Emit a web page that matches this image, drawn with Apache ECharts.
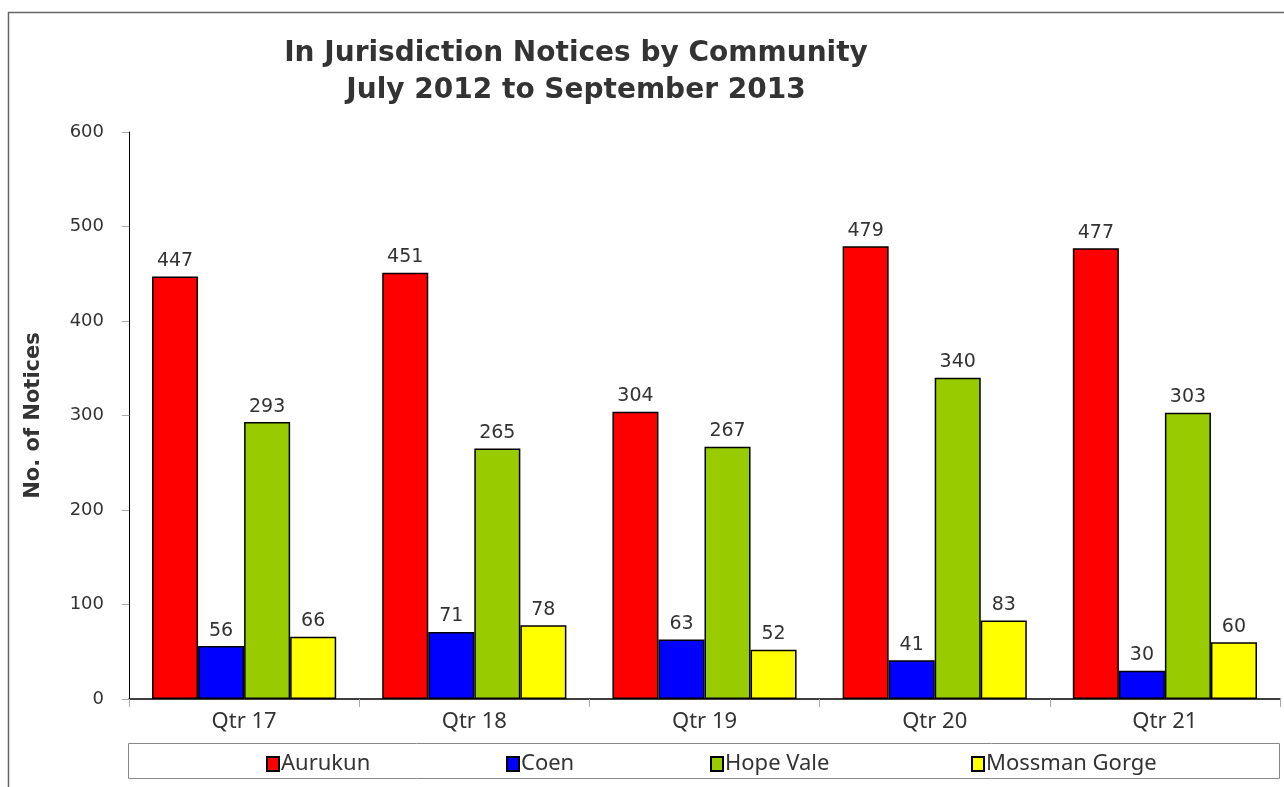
<!DOCTYPE html>
<html>
<head>
<meta charset="utf-8">
<script src="https://cdn.jsdelivr.net/npm/echarts@6/dist/echarts.min.js"></script>
<style>
html,body{margin:0;padding:0;background:#fff;}
#chart{width:1284px;height:787px;}
</style>
</head>
<body>
<div id="chart"></div>
<script>
const categories = ['Qtr 17', 'Qtr 18', 'Qtr 19', 'Qtr 20', 'Qtr 21'];
const aurukun = [447, 451, 304, 479, 477];
const coen = [56, 71, 63, 41, 30];
const hopeVale = [293, 265, 267, 340, 303];
const mossmanGorge = [66, 78, 52, 83, 60];
const yTicks = [0, 100, 200, 300, 400, 500, 600];

const seriesDefs = [
  {name: 'Aurukun', data: aurukun, color: '#FF0000'},
  {name: 'Coen', data: coen, color: '#0000FF'},
  {name: 'Hope Vale', data: hopeVale, color: '#99CC00'},
  {name: 'Mossman Gorge', data: mossmanGorge, color: '#FFFF00'}
];
const legendLefts = [261, 501, 705, 966];

const font = 'DejaVu Sans, Verdana, sans-serif';
const font2 = 'Noto Sans, Open Sans, sans-serif';
const chart = echarts.init(document.getElementById('chart'));
chart.setOption({
  animation: false,
  backgroundColor: '#fff',
  title: {
    text: 'In Jurisdiction Notices by Community\nJuly 2012 to September 2013',
    left: 571, top: 30, textAlign: 'center',
    textStyle: {fontFamily: font, fontSize: 28, fontWeight: 'bold', color: '#333', lineHeight: 37}
  },
  graphic: [
    {type: 'rect', shape: {x: 8.5, y: 12.5, width: 1400, height: 900}, style: {fill: null, stroke: '#666', lineWidth: 1.5}, silent: true},
    {type: 'rect', shape: {x: 128.5, y: 743.5, width: 1151, height: 35}, style: {fill: '#fff', stroke: '#888', lineWidth: 1}, silent: true, z: -1}
  ],
  legend: seriesDefs.map((s, i) => ({
    left: legendLefts[i], top: 748, itemWidth: 12, itemHeight: 14, icon: 'rect',
    textStyle: {fontFamily: font2, fontSize: 22, color: '#333', padding: [0, 0, 0, -3]},
    data: [s.name]
  })),
  grid: {left: 129, top: 132, right: 4, bottom: 88, containLabel: false},
  xAxis: {
    type: 'category', data: categories,
    axisLine: {lineStyle: {color: '#000', width: 1.5}},
    axisTick: {show: true, alignWithLabel: false, length: 8, lineStyle: {color: '#aaa'}},
    axisLabel: {fontFamily: font2, fontSize: 22, color: '#333', margin: 12}
  },
  yAxis: {
    type: 'value', min: 0, max: 600, interval: 100,
    name: 'No. of Notices', nameLocation: 'middle', nameGap: 85, nameRotate: 90,
    nameTextStyle: {fontFamily: font, fontSize: 21, fontWeight: 'bold', color: '#333'},
    axisLine: {show: true, lineStyle: {color: '#000', width: 1}},
    axisTick: {show: true, inside: false, length: 7, lineStyle: {color: '#aaa'}},
    splitLine: {show: false},
    axisLabel: {fontFamily: font, fontSize: 18, color: '#333', margin: 25,
      formatter: v => yTicks.includes(v) ? String(v) : ''}
  },
  series: seriesDefs.map(s => ({
    type: 'bar', name: s.name, data: s.data,
    barGap: '0%', barCategoryGap: '20%',
    itemStyle: {color: s.color, borderColor: '#000', borderWidth: 1.5},
    label: {show: true, position: 'top', distance: 6, fontFamily: font, fontSize: 19, color: '#333'}
  }))
});
</script>
</body>
</html>
